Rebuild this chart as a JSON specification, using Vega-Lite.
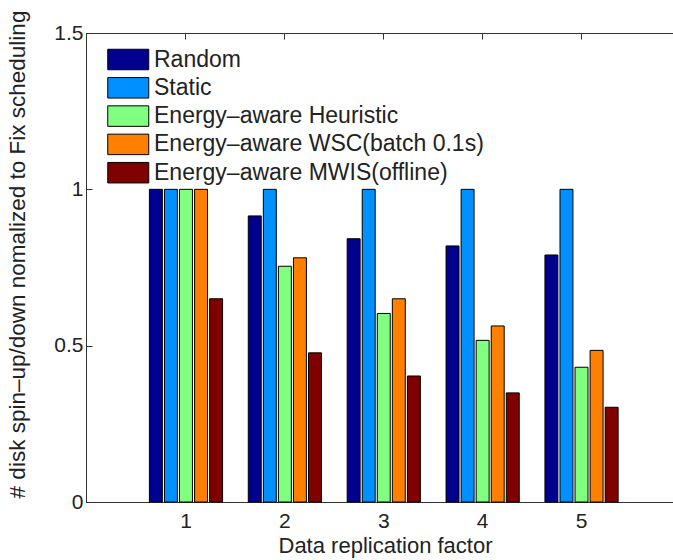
{
  "$schema": "https://vega.github.io/schema/vega-lite/v6.json",
  "autosize": {"type": "none"},
  "padding": {"left": 86, "top": 33, "right": 0, "bottom": 58},
  "width": 587,
  "height": 469,
  "background": "white",
  "config": {
    "font": "Liberation Sans",
    "view": {"stroke": null},
    "axis": {"labelFont": "Liberation Sans", "titleFont": "Liberation Sans", "labelColor": "#222", "titleColor": "#222", "titleFontWeight": "normal", "domainColor": "#333", "tickColor": "#333", "grid": false}
  },
  "data": {
    "values": [
      {"factor": "1", "method": "Random", "value": 1.0},
      {"factor": "1", "method": "Static", "value": 1.0},
      {"factor": "1", "method": "Energy–aware Heuristic", "value": 1.0},
      {"factor": "1", "method": "Energy–aware WSC(batch 0.1s)", "value": 1.0},
      {"factor": "1", "method": "Energy–aware MWIS(offline)", "value": 0.650},
      {"factor": "2", "method": "Random", "value": 0.915},
      {"factor": "2", "method": "Static", "value": 1.0},
      {"factor": "2", "method": "Energy–aware Heuristic", "value": 0.754},
      {"factor": "2", "method": "Energy–aware WSC(batch 0.1s)", "value": 0.781},
      {"factor": "2", "method": "Energy–aware MWIS(offline)", "value": 0.477},
      {"factor": "3", "method": "Random", "value": 0.842},
      {"factor": "3", "method": "Static", "value": 1.0},
      {"factor": "3", "method": "Energy–aware Heuristic", "value": 0.603},
      {"factor": "3", "method": "Energy–aware WSC(batch 0.1s)", "value": 0.650},
      {"factor": "3", "method": "Energy–aware MWIS(offline)", "value": 0.403},
      {"factor": "4", "method": "Random", "value": 0.819},
      {"factor": "4", "method": "Static", "value": 1.0},
      {"factor": "4", "method": "Energy–aware Heuristic", "value": 0.517},
      {"factor": "4", "method": "Energy–aware WSC(batch 0.1s)", "value": 0.563},
      {"factor": "4", "method": "Energy–aware MWIS(offline)", "value": 0.349},
      {"factor": "5", "method": "Random", "value": 0.790},
      {"factor": "5", "method": "Static", "value": 1.0},
      {"factor": "5", "method": "Energy–aware Heuristic", "value": 0.431},
      {"factor": "5", "method": "Energy–aware WSC(batch 0.1s)", "value": 0.485},
      {"factor": "5", "method": "Energy–aware MWIS(offline)", "value": 0.303}
    ]
  },
  "layer": [
    {
      "mark": {"type": "bar", "stroke": "black", "strokeWidth": 1},
      "encoding": {
        "x": {
          "field": "factor", "type": "ordinal",
          "scale": {"paddingInner": 0.26, "paddingOuter": 0.598, "align": 0.536},
          "axis": {"orient": "bottom", "title": "Data replication factor", "labelAngle": 0, "labelFontSize": 21, "titleFontSize": 22, "tickSize": -6, "labelPadding": 14, "titleX": 299, "titleY": 50, "titleBaseline": "alphabetic", "titleAnchor": null}
        },
        "xOffset": {
          "field": "method", "type": "nominal",
          "sort": ["Random", "Static", "Energy–aware Heuristic", "Energy–aware WSC(batch 0.1s)", "Energy–aware MWIS(offline)"],
          "scale": {"paddingInner": 0.14, "paddingOuter": 0}
        },
        "y": {
          "field": "value", "type": "quantitative",
          "scale": {"domain": [0, 1.5], "nice": false},
          "axis": {"title": "# disk spin–up/down nomalized to Fix scheduling", "values": [0, 0.5, 1, 1.5], "format": "~g", "labelFontSize": 21, "titleFontSize": 22.5, "tickSize": -6, "labelPadding": 9, "titleX": -69, "titleY": 221, "titleAngle": -90, "titleBaseline": "middle", "titleAlign": "center", "titleAnchor": null}
        },
        "color": {
          "field": "method", "type": "nominal",
          "sort": ["Random", "Static", "Energy–aware Heuristic", "Energy–aware WSC(batch 0.1s)", "Energy–aware MWIS(offline)"],
          "scale": {"range": ["#00008F", "#0090FF", "#80FF80", "#FF8000", "#800000"]},
          "legend": {
            "title": null, "orient": "none", "legendX": 30.75, "legendY": 15, "padding": 0,
            "symbolType": "M-2,-1H2V1H-2Z", "symbolSize": 420.25, "symbolStrokeColor": "black", "symbolStrokeWidth": 1, "symbolOpacity": 1,
            "labelFont": "Liberation Sans", "labelFontSize": 23, "labelColor": "#222", "labelOffset": 14.25, "rowPadding": 3.3, "labelLimit": 0
          }
        }
      }
    },
    {
      "mark": {"type": "bar", "opacity": 0},
      "encoding": {
        "x": {"field": "factor", "type": "ordinal", "axis": {"orient": "top", "labels": false, "title": null, "tickSize": -6, "domainColor": "#333"}}
      }
    }
  ],
  "resolve": {"axis": {"x": "independent"}}
}
